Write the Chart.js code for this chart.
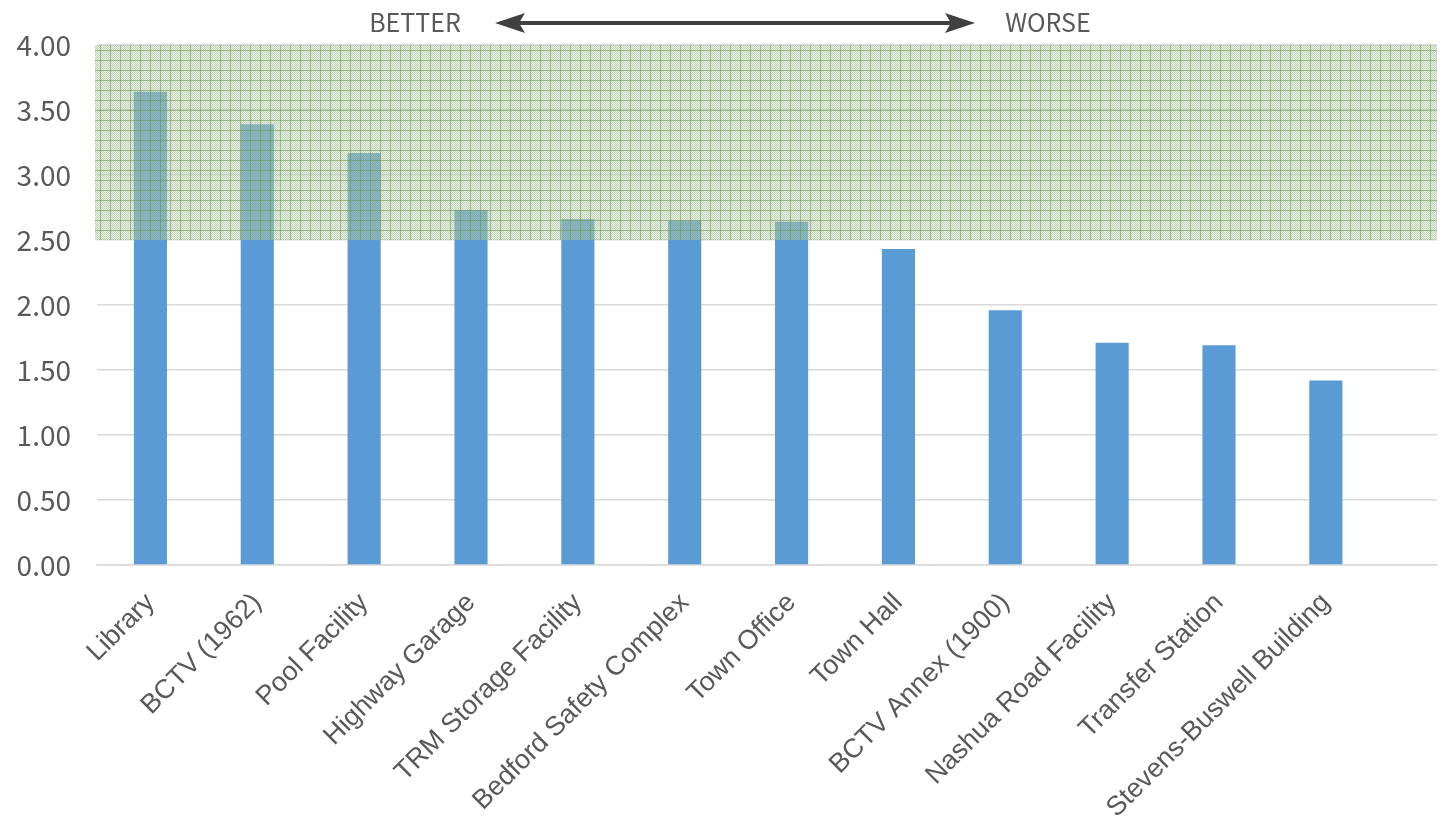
<!DOCTYPE html>
<html>
<head>
<meta charset="utf-8">
<script src="https://cdn.jsdelivr.net/npm/chart.js@4.4.1/dist/chart.umd.min.js"></script>
<style>
  html, body { margin: 0; padding: 0; background: #fff; }
  #wrap { width: 1443px; height: 823px; position: relative; }
</style>
</head>
<body>
<div id="wrap"><canvas id="scoreChart"></canvas></div>
<script>
// facility scores
var facilities = ['Library', 'BCTV (1962)', 'Pool Facility', 'Highway Garage', 'TRM Storage Facility',
  'Bedford Safety Complex', 'Town Office', 'Town Hall', 'BCTV Annex (1900)', 'Nashua Road Facility',
  'Transfer Station', 'Stevens-Buswell Building'];
var scores = [3.64, 3.39, 3.17, 2.73, 2.66, 2.65, 2.64, 2.43, 1.96, 1.71, 1.69, 1.42];
var bandRange = [2.5, 4.0];     // shaded "good" zone
var yTicks = [0, 0.5, 1, 1.5, 2, 2.5, 3, 3.5, 4];
var arrowLabels = ['BETTER', 'WORSE'];

function makeHatch() {
  var c = document.createElement('canvas');
  c.width = 10; c.height = 10;
  var g = c.getContext('2d');
  g.fillStyle = 'rgba(120,160,100,0.36)';
  for (var y = 0; y < 10; y++) {
    for (var x = 0; x < 10; x++) {
      if ((x + y) % 2 === 0) g.fillRect(x, y, 1, 1);
    }
  }
  g.fillStyle = 'rgba(95,145,65,0.5)';
  g.fillRect(0, 0, 10, 1);
  g.fillRect(0, 0, 1, 10);
  return c;
}

var bandPlugin = {
  id: 'band',
  afterDatasetsDraw: function(chart) {
    var ctx = chart.ctx, area = chart.chartArea, y = chart.scales.y;
    var top = y.getPixelForValue(bandRange[1]);
    var bottom = y.getPixelForValue(bandRange[0]);
    ctx.save();
    ctx.fillStyle = 'rgba(205,220,196,0.42)';
    ctx.fillRect(area.left - 2, top, area.right - area.left + 2, bottom - top);
    ctx.fillStyle = ctx.createPattern(makeHatch(), 'repeat');
    ctx.fillRect(area.left - 2, top, area.right - area.left + 2, bottom - top);
    ctx.restore();
  },
  afterDraw: function(chart) {
    var ctx = chart.ctx;
    ctx.save();
    ctx.fillStyle = '#595959';
    ctx.font = '25px "Noto Sans CJK JP"';
    ctx.textAlign = 'center';
    ctx.textBaseline = 'middle';
    ctx.fillText(arrowLabels[0], 415, 22, 94);
    ctx.fillText(arrowLabels[1], 1048, 22, 90);
    // double-headed arrow
    ctx.strokeStyle = '#404040';
    ctx.fillStyle = '#404040';
    ctx.lineWidth = 4;
    ctx.beginPath();
    ctx.moveTo(515, 23); ctx.lineTo(955, 23);
    ctx.stroke();
    ctx.beginPath();
    ctx.moveTo(495, 23); ctx.lineTo(525, 13); ctx.lineTo(519, 23); ctx.lineTo(525, 33); ctx.closePath();
    ctx.fill();
    ctx.beginPath();
    ctx.moveTo(975, 23); ctx.lineTo(945, 13); ctx.lineTo(951, 23); ctx.lineTo(945, 33); ctx.closePath();
    ctx.fill();
    ctx.restore();
  }
};

var ctx = document.getElementById('scoreChart').getContext('2d');
var scoreChart = new Chart(ctx, {
  type: 'bar',
  data: {
    labels: facilities,
    datasets: [{
      data: scores,
      backgroundColor: '#5b9bd5',
      borderWidth: 0,
      barPercentage: 0.62,
      categoryPercentage: 0.5
    }]
  },
  options: {
    responsive: true,
    maintainAspectRatio: false,
    devicePixelRatio: 1,
    animation: false,
    layout: { padding: { top: 45, right: 6, left: 0, bottom: 0 } },
    plugins: { legend: { display: false }, tooltip: { enabled: false } },
    scales: {
      x: {
        grid: { display: false, drawTicks: false },
        border: { display: true, color: '#d9d9d9', width: 1.5 },
        ticks: {
          color: '#595959',
          font: { family: '"Liberation Sans", Arial, sans-serif', size: 27 },
          maxRotation: 45, minRotation: 45,
          padding: 22,
          autoSkip: false
        },
        // Excel leaves some empty room after the last category
        afterBuildTicks: function(s) { s._valueRange = 12.54; },
        afterFit: function(s) { s.height = 258; }
      },
      y: {
        min: 0, max: 4,
        afterBuildTicks: function(s) { s.ticks = yTicks.map(function(v) { return { value: v }; }); },
        grid: { color: '#d9d9d9', lineWidth: 1.5, drawTicks: false },
        border: { display: false },
        ticks: {
          color: '#595959',
          font: { family: '"Noto Sans CJK JP", sans-serif', size: 28 },
          padding: 26,
          callback: function(v) { return Number(v).toFixed(2); }
        },
        afterFit: function(s) { s.width = 97; }
      }
    }
  },
  plugins: [bandPlugin]
});
</script>
</body>
</html>
